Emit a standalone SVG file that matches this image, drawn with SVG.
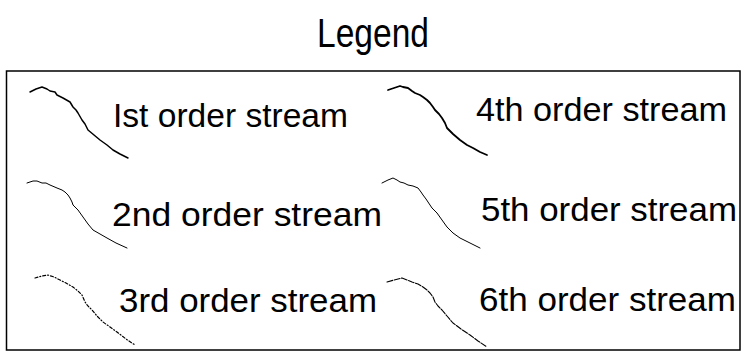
<svg xmlns="http://www.w3.org/2000/svg" width="746" height="354" viewBox="0 0 746 354">
<style>
.lbl{font-family:"Liberation Sans","DejaVu Sans",sans-serif;font-size:33px;fill:#000}
.ttl{font-family:"Liberation Sans","DejaVu Sans",sans-serif;font-size:40px;fill:#000}
.s{fill:none;stroke:#000;stroke-linecap:round;stroke-linejoin:round}
</style>
<rect width="746" height="354" fill="#fff"/>
<text class="ttl" x="373" y="47" text-anchor="middle" textLength="112" lengthAdjust="spacingAndGlyphs">Legend</text>
<rect x="6.5" y="71" width="733.5" height="279" fill="none" stroke="#000" stroke-width="1.5"/>
<g id="s1">
<path class="s" stroke-width="1.5" d="M30,92 L36,89 L42,87 L47,89 L50,91 L55,92 L57,95 L63,98 L70,102 L73,107 L76,110 L78,113 L82,120 L85,124 L88,130 L94,135 L100,140 L107,145 L113,150 L120,154 L128,158"/>
<text class="lbl" x="113" y="127" textLength="235" lengthAdjust="spacingAndGlyphs">Ist order stream</text>
</g>
<g id="s2">
<path class="s" stroke-width="1" d="M27,183 L33,181 L37,181 L42,183 L46,183 L50,185 L57,188 L62,190 L65,192 L68,195 L70,198 L72,202 L73,205 L76,208 L78,210 L83,217 L88,224 L93,230 L100,234 L107,238 L116,243 L127,248"/>
<text class="lbl" x="112" y="226" textLength="270" lengthAdjust="spacingAndGlyphs">2nd order stream</text>
</g>
<g id="s3">
<path class="s" stroke-width="1.2" stroke-dasharray="3,2,1,2" d="M35,278 L42,276 L48,275 L54,277 L60,280 L66,283 L73,287 L78,291 L82,295 L85,302 L88,306 L92,310 L97,316 L103,322 L110,327 L117,332 L126,339 L135,345"/>
<text class="lbl" x="119" y="312" textLength="258" lengthAdjust="spacingAndGlyphs">3rd order stream</text>
</g>
<g id="s4">
<path class="s" stroke-width="1.8" d="M388,90 L394,88 L400,86 L403,87 L408,88 L412,91 L415,93 L420,95 L423,97 L427,100 L430,103 L433,107 L435,110 L439,114 L442,118 L445,123 L447,128 L453,134 L460,140 L467,145 L473,148 L480,152 L487,155"/>
<text class="lbl" x="476" y="121" textLength="251" lengthAdjust="spacingAndGlyphs">4th order stream</text>
</g>
<g id="s5">
<path class="s" stroke-width="1" d="M382,183 L388,180 L393,178 L397,180 L400,182 L404,183 L408,185 L413,186 L418,188 L421,192 L423,195 L426,199 L428,202 L430,205 L432,208 L435,211 L437,213 L442,220 L447,227 L453,233 L460,238 L470,243 L480,248"/>
<text class="lbl" x="481" y="221" textLength="256" lengthAdjust="spacingAndGlyphs">5th order stream</text>
</g>
<g id="s6">
<path class="s" stroke-width="1.1" stroke-dasharray="6,1.5" d="M387,282 L394,280 L402,278 L407,280 L412,282 L418,284 L423,287 L427,290 L430,293 L433,297 L435,302 L438,306 L442,310 L447,316 L453,323 L461,329 L470,335 L478,341 L487,347"/>
<text class="lbl" x="479" y="311" textLength="257" lengthAdjust="spacingAndGlyphs">6th order stream</text>
</g>
</svg>
